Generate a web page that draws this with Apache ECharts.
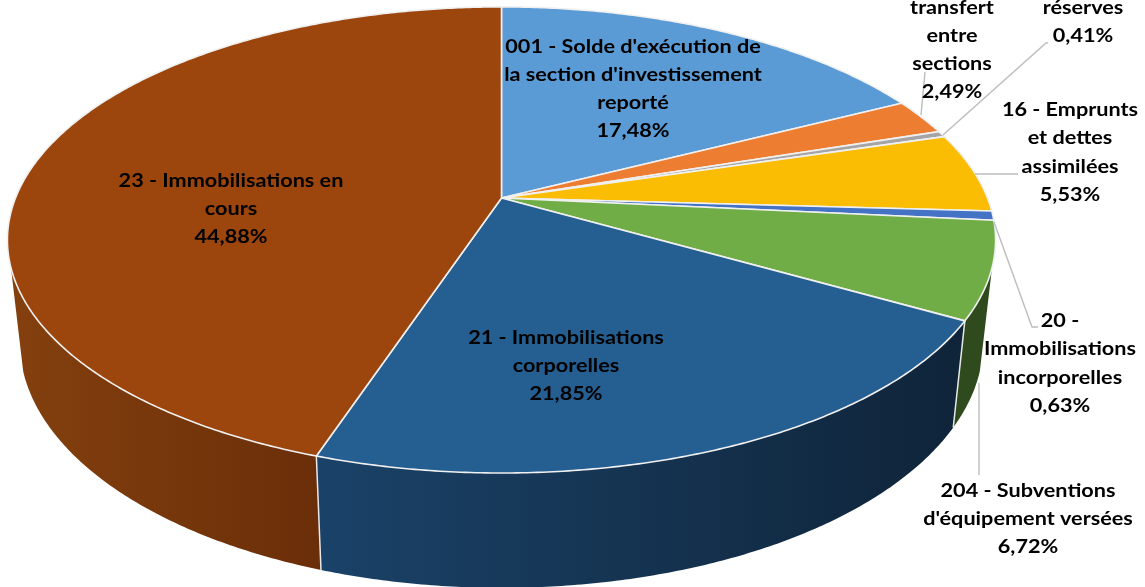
<!DOCTYPE html>
<html><head><meta charset="utf-8">
<style>html,body{margin:0;padding:0;background:#fff}#c{width:1145px;height:587px;filter:blur(0.4px)}</style>
<script src="https://cdn.jsdelivr.net/npm/echarts@6/dist/echarts.min.js"></script>
</head><body><div id="c"></div>
<script>
// Data
var categories = [
  ["001 - Solde d'exécution de","la section d'investissement","reporté"],
  ["transfert","entre","sections"],
  ["réserves"],
  ["16 - Emprunts","et dettes","assimilées"],
  ["20 -","Immobilisations","incorporelles"],
  ["204 - Subventions","d'équipement versées"],
  ["21 - Immobilisations","corporelles"],
  ["23 - Immobilisations en","cours"]
];
var values = [17.48, 2.49, 0.41, 5.53, 0.63, 6.72, 21.85, 44.88];
var valueLabels = ["17,48%","2,49%","0,41%","5,53%","0,63%","6,72%","21,85%","44,88%"];
// Style and layout
var topColors = ["#5B9BD5","#ED7D31","#A5A5A5","#FBBC04","#4472C4","#70AD47","#255E91","#9C450C"];
var sideStops = [null,null,null,null,null,["#2F4A1D","#2F4A1D"],["#1A4268","#0F2439"],["#84400E","#6A2E09"]];
var labelX = [633,952,1083,1070,1060,1028,566,231];
var labelY = [47,8,8,110,321,491,338,181];
var lineGaps = [28,28,28,28.3,28.3,28,28,28];
var leaders = [null,[[925,72],[921,115]],[[1048,43],[1046,43],[943,135]],[[1018,174],[975,174]],
  [[994,222],[1032,327],[1038,327]],[[979,475],[979,383]],null,null];

// Projection of the pie disc
var CX=501.5,CY=198,A=486,B=225.5,Q=0.18,SX=0.975,SY=1.054,DY=100,SIDE_A=107,SIDE_B=253;
function rimTop(deg){var t=deg*Math.PI/180,w=1+Q*Math.cos(t);return [CX+A*Math.sin(t)/w,CY-B*Math.cos(t)/w];}
function rimLow(deg){var p=rimTop(deg);return [CX+(p[0]-CX)*SX,CY+DY+(p[1]-CY)*SY];}
function arc(fn,a,b){var pts=[],n=Math.max(2,Math.ceil(Math.abs(b-a)*2));for(var i=0;i<=n;i++)pts.push(fn(a+(b-a)*i/n));return pts;}
var total=values.reduce(function(s,v){return s+v;},0);
var starts=[],run=0;values.forEach(function(v){starts.push(run/total*360);run+=v;});

function sideItem(p,api){
  var i=api.value(0),a=Math.max(starts[i],SIDE_A),b=Math.min(starts[i]+api.value(1)/total*360,SIDE_B);
  if(b<=a||!sideStops[i])return {type:'group',children:[]};
  var up=arc(rimTop,a,b),low=arc(rimLow,a,b).reverse();
  var all=up.concat(low),xs=all.map(function(q){return q[0];});
  var x0=Math.min.apply(null,xs),x1=Math.max.apply(null,xs);
  var leftStop=sideStops[i][0],rightStop=sideStops[i][1];
  var kids=[{type:'polygon',shape:{points:all},style:{fill:new echarts.graphic.LinearGradient(x0,0,x1,0,[{offset:0,color:leftStop},{offset:1,color:rightStop}],true),stroke:null}}];
  if(a===starts[i]){var u=rimTop(a),l=rimLow(a);kids.push({type:'line',shape:{x1:u[0],y1:u[1],x2:l[0],y2:l[1]},style:{stroke:'#E8E8E8',lineWidth:1.5}});}
  return {type:'group',children:kids};
}
function topItem(p,api){
  var i=api.value(0),a=starts[i],b=a+api.value(1)/total*360;
  var pts=[[CX,CY]].concat(arc(rimTop,a,b));
  return {type:'polygon',shape:{points:pts},style:{fill:topColors[i],stroke:'#F0F0F0',lineWidth:1.6,lineJoin:'round'}};
}
function labelItem(p,api){
  var i=api.value(0),kids=[],lines=categories[i].concat([valueLabels[i]]);
  if(leaders[i])kids.push({type:'polyline',shape:{points:leaders[i]},style:{stroke:'#BDBDBD',lineWidth:1.4,fill:null}});
  lines.forEach(function(t,k){
    kids.push({type:'text',x:labelX[i],y:labelY[i]+k*lineGaps[i],scaleX:1.17,
      style:{text:t,x:0,y:0,align:'center',verticalAlign:'middle',
      font:'bold 18.5px Lato, "Open Sans", sans-serif',fill:'#000'}});
  });
  return {type:'group',children:kids};
}
var rows=values.map(function(v,i){return [i,v];});
function series(fn,z){return {type:'custom',coordinateSystem:'none',renderItem:fn,data:rows,z:z,silent:true,animation:false,clip:false};}
var chart=echarts.init(document.getElementById('c'),null,{renderer:'canvas'});
chart.setOption({animation:false,backgroundColor:'#fff',series:[series(sideItem,1),series(topItem,2),series(labelItem,3)]});
</script></body></html>
